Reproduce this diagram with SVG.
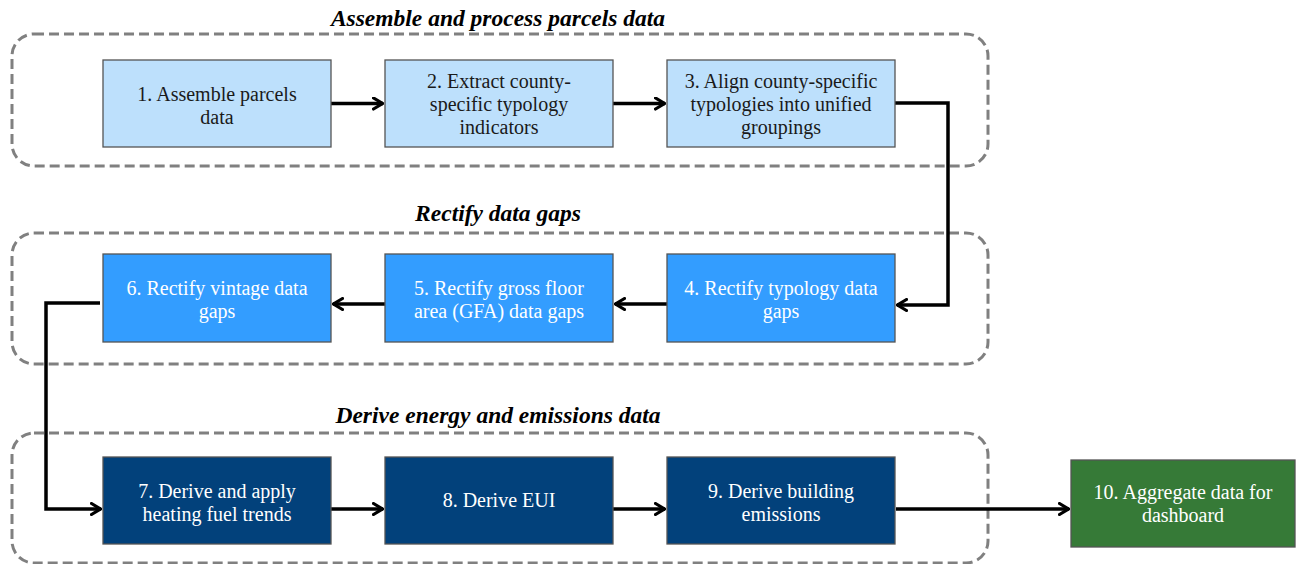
<svg xmlns="http://www.w3.org/2000/svg" width="1296" height="564" viewBox="0 0 1296 564">
<style>
.grp{fill:none;stroke:#808080;stroke-width:3;stroke-dasharray:10 5}
.ttl{font-family:"Liberation Serif",serif;font-size:23.5px;font-weight:bold;font-style:italic;fill:#000;text-anchor:middle}
.box{stroke:#555;stroke-width:1.3}
.l1{fill:#BDE0FC}
.l2{fill:#339DFF}
.l3{fill:#02417B}
.l4{fill:#367A37}
.t{font-family:"Liberation Serif",serif;font-size:20px;text-anchor:middle}
.dk{fill:#1a1a1a}
.wt{fill:#fff}
.c{fill:none;stroke:#000;stroke-width:3.5;stroke-linejoin:miter}
</style>
<defs>
<marker id="ah" viewBox="0 0 12 14" refX="11" refY="7" markerWidth="12" markerHeight="14" markerUnits="userSpaceOnUse" orient="auto">
<path d="M1.5,1.5 L10.5,7 L1.5,12.5" fill="none" stroke="#000" stroke-width="3.2" stroke-linecap="round" stroke-linejoin="miter"/>
</marker>
</defs>
<g id="groups">
<rect class="grp" x="12" y="34" width="976" height="132" rx="22"/>
<rect class="grp" x="12" y="233" width="976" height="131" rx="22"/>
<rect class="grp" x="12" y="433" width="976" height="130" rx="22"/>
<text class="ttl" x="498" y="26">Assemble and process parcels data</text>
<text class="ttl" x="498" y="221">Rectify data gaps</text>
<text class="ttl" x="498" y="423">Derive energy and emissions data</text>
</g>
<g id="connectors">
<path class="c" d="M331,103.5 H383" marker-end="url(#ah)"/>
<path class="c" d="M613,103.5 H665" marker-end="url(#ah)"/>
<path class="c" d="M895,103 H948 V305 H897" marker-end="url(#ah)"/>
<path class="c" d="M667,304 H615" marker-end="url(#ah)"/>
<path class="c" d="M385,304 H333" marker-end="url(#ah)"/>
<path class="c" d="M100,303 H46 V509 H101" marker-end="url(#ah)"/>
<path class="c" d="M331,509 H383" marker-end="url(#ah)"/>
<path class="c" d="M613,509 H665" marker-end="url(#ah)"/>
<path class="c" d="M896,509 H1069" marker-end="url(#ah)"/>
</g>
<g id="n1"><rect class="box l1" x="103" y="60" width="228" height="87"/>
<text class="t dk" x="217" y="100.5">1. Assemble parcels</text><text class="t dk" x="217" y="123.5">data</text></g>
<g id="n2"><rect class="box l1" x="385" y="60" width="228" height="87"/>
<text class="t dk" x="499" y="88">2. Extract county-</text><text class="t dk" x="499" y="111">specific typology</text><text class="t dk" x="499" y="134">indicators</text></g>
<g id="n3"><rect class="box l1" x="667" y="60" width="228" height="87"/>
<text class="t dk" x="781" y="88">3. Align county-specific</text><text class="t dk" x="781" y="111">typologies into unified</text><text class="t dk" x="781" y="134">groupings</text></g>
<g id="n4"><rect class="box l2" x="667" y="254" width="228" height="88"/>
<text class="t wt" x="781" y="295">4. Rectify typology data</text><text class="t wt" x="781" y="318">gaps</text></g>
<g id="n5"><rect class="box l2" x="385" y="254" width="228" height="88"/>
<text class="t wt" x="499" y="295">5. Rectify gross floor</text><text class="t wt" x="499" y="318">area (GFA) data gaps</text></g>
<g id="n6"><rect class="box l2" x="103" y="254" width="228" height="88"/>
<text class="t wt" x="217" y="295">6. Rectify vintage data</text><text class="t wt" x="217" y="318">gaps</text></g>
<g id="n7"><rect class="box l3" x="103" y="457" width="228" height="87"/>
<text class="t wt" x="217" y="497.5">7. Derive and apply</text><text class="t wt" x="217" y="520.5">heating fuel trends</text></g>
<g id="n8"><rect class="box l3" x="385" y="457" width="228" height="87"/>
<text class="t wt" x="499" y="507">8. Derive EUI</text></g>
<g id="n9"><rect class="box l3" x="667" y="457" width="228" height="87"/>
<text class="t wt" x="781" y="497.5">9. Derive building</text><text class="t wt" x="781" y="520.5">emissions</text></g>
<g id="n10"><rect class="box l4" x="1071" y="460" width="224" height="87"/>
<text class="t wt" x="1183" y="498.5">10. Aggregate data for</text><text class="t wt" x="1183" y="521.5">dashboard</text></g>
</svg>
